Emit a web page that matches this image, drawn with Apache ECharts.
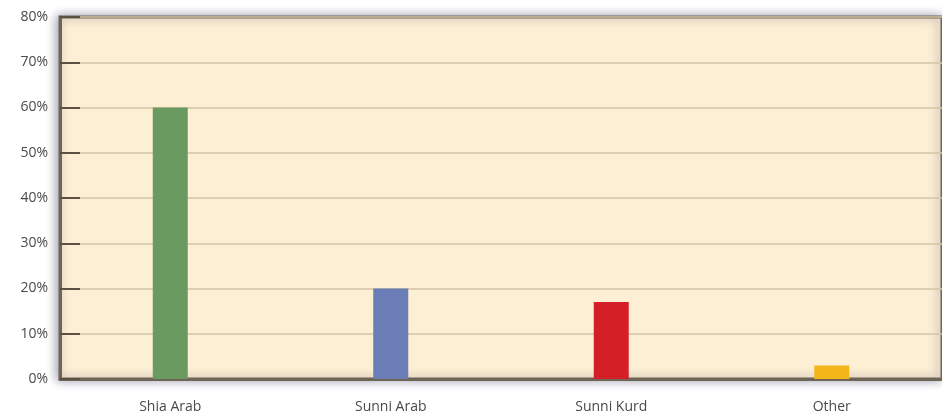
<!DOCTYPE html>
<html><head><meta charset="utf-8">
<script src="https://cdn.jsdelivr.net/npm/echarts@6/dist/echarts.min.js"></script>
<style>html,body{margin:0;padding:0;background:#fff}#c{width:942px;height:416px}</style>
</head><body><div id="c"></div>
<script>
const categories = ['Shia Arab', 'Sunni Arab', 'Sunni Kurd', 'Other'];
const values = [60, 20, 17, 3];
const barColors = ['#6a9a5f', '#6b7db6', '#d51f27', '#f2b61b'];
const yTicks = [0, 10, 20, 30, 40, 50, 60, 70, 80];

const chart = echarts.init(document.getElementById('c'));
chart.setOption({
  animation: false,
  grid: {
    left: 60, top: 17, width: 888, height: 362,
    show: true, backgroundColor: '#fdefd4',
    borderColor: '#6f6557', borderWidth: 3,
    shadowBlur: 10, shadowColor: 'rgba(60,60,100,0.45)', shadowOffsetX: -2, shadowOffsetY: 0
  },
  xAxis: {
    type: 'category', data: categories,
    axisLine: { lineStyle: { color: '#6f6557', width: 3 } },
    axisTick: { inside: true, length: 8, lineStyle: { color: '#4a4238', width: 1 } },
    axisLabel: { color: '#4a4a4a', fontSize: 14, fontFamily: 'Open Sans', margin: 21 },
    splitLine: { show: false }
  },
  yAxis: {
    type: 'value', min: yTicks[0], max: yTicks[yTicks.length - 1], interval: 10,
    axisLine: { show: true, lineStyle: { color: '#6f6557', width: 3 } },
    axisTick: { show: true, inside: true, length: 20, lineStyle: { color: '#5a5044', width: 2 } },
    axisLabel: { color: '#4a4a4a', fontSize: 14, fontFamily: 'Open Sans', margin: 12, formatter: '{value}%' },
    splitLine: { show: true, lineStyle: { color: '#d3c5a4', width: 1.5 } }
  },
  series: [{
    type: 'bar', barWidth: 35,
    data: values.map((v, i) => ({ value: v, itemStyle: { color: barColors[i] } }))
  }]
});
</script></body></html>
